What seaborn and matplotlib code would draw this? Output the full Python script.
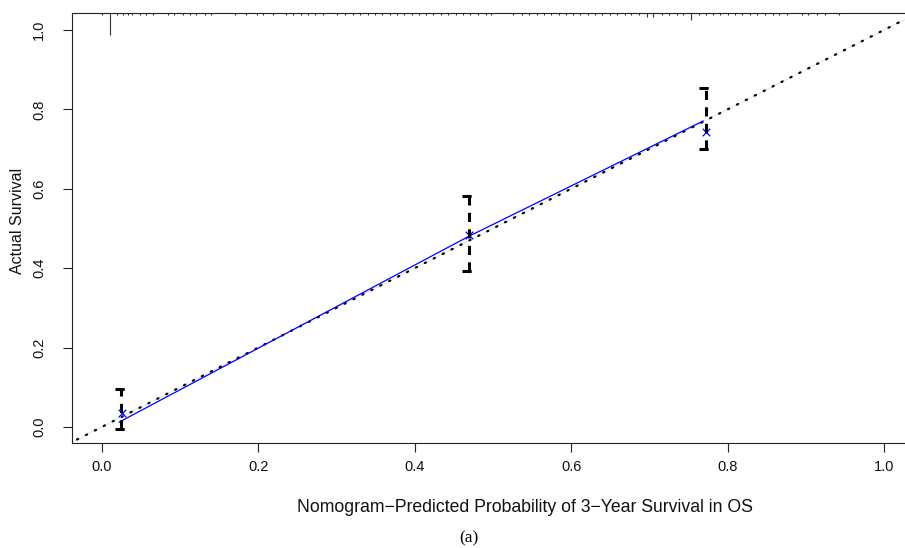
import numpy as np
import pandas as pd
import matplotlib
matplotlib.use("Agg")
import matplotlib.pyplot as plt
import seaborn as sns

# ---------------- data ----------------
line_pred = [0.022, 0.469, 0.769]
line_obs = [0.012, 0.480, 0.771]
mark_pred = [0.026, 0.469, 0.772]
mark_obs = [0.035, 0.484, 0.742]
err_x = [0.025, 0.469, 0.772]
err_lo = [-0.006, 0.393, 0.700]
err_hi = [0.095, 0.582, 0.855]
rug_vals = [0.000, 0.010, 0.020, 0.027, 0.034, 0.039, 0.049, 0.057, 0.066, 0.085,
            0.093, 0.104, 0.113, 0.121, 0.132, 0.140, 0.170, 0.185, 0.198, 0.206,
            0.219, 0.236, 0.245, 0.255, 0.264, 0.272, 0.283, 0.301, 0.311, 0.321,
            0.330, 0.340, 0.349, 0.358, 0.368, 0.377, 0.386, 0.396, 0.405, 0.415,
            0.424, 0.434, 0.443, 0.453, 0.462, 0.471, 0.481, 0.491, 0.498, 0.526,
            0.537, 0.546, 0.556, 0.566, 0.574, 0.584, 0.593, 0.603, 0.611, 0.621,
            0.630, 0.640, 0.650, 0.659, 0.669, 0.677, 0.687, 0.697, 0.705, 0.716,
            0.725, 0.735, 0.743, 0.753, 0.763, 0.773, 0.782, 0.790, 0.801, 0.809,
            0.819, 0.829, 0.838, 0.848, 0.858, 0.866, 0.876, 0.895, 0.903, 0.914,
            0.925, 0.942]
rug_counts = [1] * len(rug_vals)
rug_counts[rug_vals.index(0.010)] = 10
rug_counts[rug_vals.index(0.697)] = 2
rug_counts[rug_vals.index(0.705)] = 2
rug_counts[rug_vals.index(0.753)] = 3
x_ticks = [0.0, 0.2, 0.4, 0.6, 0.8, 1.0]
y_ticks = [0.0, 0.2, 0.4, 0.6, 0.8, 1.0]
x_label = "Nomogram\u2212Predicted Probability of 3\u2212Year Survival in OS"
y_label = "Actual Survival"
caption = "(a)"

# ---------------- figure ----------------
sns.set_theme(style="white")
plt.rcParams['font.family'] = ['Liberation Sans', 'DejaVu Sans']

W, H = 905, 548
fig = plt.figure(figsize=(W / 100, H / 100), dpi=100)
ax = fig.add_axes([72 / W, (H - 443) / H, (908 - 72) / W, (443 - 13) / H])

xlo, xhi = -0.038, 1.0307
ylo, yhi = -0.0403, 1.0428
ax.set_xlim(xlo, xhi)
ax.set_ylim(ylo, yhi)
px_per_y = 397.0

# ideal diagonal
diag = pd.DataFrame({"x": [-0.1, 1.1], "y": [-0.1, 1.1]})
ax.plot(diag["x"], diag["y"], color="#dcdcdc", lw=0.5, zorder=1)
ax.plot(diag["x"], diag["y"], color="black", lw=1.6,
        linestyle=(0, (0.6, 3.9)), dash_capstyle="round", zorder=2)

# calibration line
df_line = pd.DataFrame({"pred": line_pred, "obs": line_obs})
sns.lineplot(data=df_line, x="pred", y="obs", color="blue", lw=0.9, sort=False,
             ax=ax, zorder=3)

# bias-corrected markers
df_mark = pd.DataFrame({"pred": mark_pred, "obs": mark_obs})
sns.scatterplot(data=df_mark, x="pred", y="obs", marker="x", color="blue",
                s=30, linewidth=0.9, ax=ax, zorder=4)

# error bars (dashed, R errbar style)
smidge = 0.015 * (xhi - xlo) / 2
dash = (0, (3.0, 2.4))
for x, lo, hi in zip(err_x, err_lo, err_hi):
    ax.plot([x, x], [lo, hi], color="black", lw=2.2, linestyle=dash,
            solid_capstyle="butt", dash_capstyle="butt", zorder=5)
    ax.plot([x - smidge, x + smidge], [lo, lo], color="black", lw=2.2,
            linestyle=dash, dash_capstyle="butt", zorder=5)
    ax.plot([x - smidge, x + smidge], [hi, hi], color="black", lw=2.2,
            linestyle=dash, dash_capstyle="butt", zorder=5)

# rug along the top
rug_len = [c * 2.2 / px_per_y for c in rug_counts]
ax.vlines(rug_vals, [yhi - l for l in rug_len], yhi, color="#333333", lw=0.8,
          zorder=6)

# axes styling
for s in ["left", "bottom", "top"]:
    ax.spines[s].set_visible(True)
    ax.spines[s].set_color("#222222")
    ax.spines[s].set_linewidth(0.8)
ax.spines["right"].set_visible(False)

ax.set_xticks(x_ticks)
ax.set_yticks(y_ticks)
ax.set_xticklabels([f"{v:.1f}" for v in x_ticks])
ax.set_yticklabels([f"{v:.1f}" for v in y_ticks], rotation=90, va="center")
ax.tick_params(axis="both", which="both", direction="out", length=6.5, width=0.8,
               color="#222222", labelsize=10.5, labelcolor="#111111",
               bottom=True, left=True, top=False, right=False)
ax.tick_params(axis="x", pad=6)
ax.tick_params(axis="y", pad=12)
ax.set_xlabel("")
ax.set_ylabel("")

fig.text(525 / W, 1 - 507 / H, x_label, ha="center", va="center",
         fontsize=12.7, color="#111111")
fig.text(18 / W, 1 - 221 / H, y_label, ha="center", va="center",
         rotation=90, fontsize=11.5, color="#111111")
fig.text(469 / W, 1 - 538 / H, caption, ha="center", va="center",
         fontsize=12.5, family=["Liberation Serif", "DejaVu Serif"], color="black")

fig.savefig("out.png", dpi=100)
